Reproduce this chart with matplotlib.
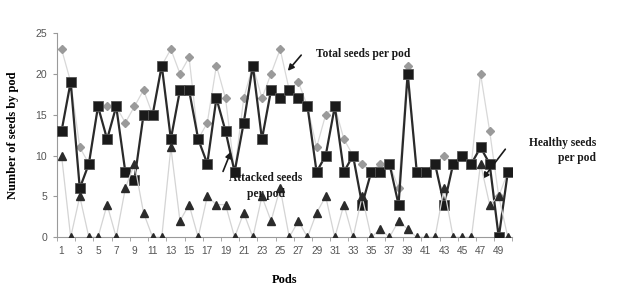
import matplotlib
matplotlib.use("Agg")
import matplotlib.pyplot as plt
import numpy as np

# seeds per pod
pods = list(range(1, 51))
healthy = [13, 19, 6, 9, 16, 12, 16, 8, 7, 15, 15, 21, 12, 18, 18, 12, 9, 17, 13, 8,
           14, 21, 12, 18, 17, 18, 17, 16, 8, 10, 16, 8, 10, 4, 8, 8, 9, 4, 20, 8,
           8, 9, 4, 9, 10, 9, 11, 9, 0, 8]
attacked = [10, 0, 5, 0, 0, 4, 0, 6, 9, 3, 0, 0, 11, 2, 4, 0, 5, 4, 4, 0,
            3, 0, 5, 2, 6, 0, 2, 0, 3, 5, 0, 4, 0, 5, 0, 1, 0, 2, 1, 0,
            0, 0, 6, 0, 0, 0, 9, 4, 5, 0]
total = [h + a for h, a in zip(healthy, attacked)]

xtick_labels = [str(p) for p in pods if p % 2 == 1]

serif = ["Liberation Serif", "DejaVu Serif"]
sans = ["Liberation Sans", "DejaVu Sans"]

W, H = 619, 293
fig = plt.figure(figsize=(W / 100, H / 100), dpi=100)
ax = fig.add_axes([0.0921, 0.190, 0.7357, 0.698])

ax.plot(pods, total, color="#d8d8d8", lw=0.9, marker="D", ms=4.4,
        mfc="#9a9a9a", mec="#9a9a9a", zorder=2)
ax.plot(pods, healthy, color="#2a2a2a", lw=1.6, marker="s", ms=6.6,
        mfc="#1a1a1a", mec="#555555", mew=0.6, zorder=3)
ax.plot(pods, attacked, color="#d4d4d4", lw=0.9, marker="^", ms=6.0,
        mfc="#2b2b2b", mec="#2b2b2b", zorder=4)

ax.set_xlim(0.5, 50.5)
ax.set_ylim(0, 25)
ax.set_yticks([0, 5, 10, 15, 20, 25])
ax.set_xticks([p for p in pods if p % 2 == 1])
ax.set_xticklabels(xtick_labels)
ax.set_xticks(np.arange(0.5, 51, 2), minor=True)

for s in ["top", "right"]:
    ax.spines[s].set_visible(False)
ax.spines["left"].set_color("#9a9a9a")
ax.spines["bottom"].set_color("#9a9a9a")
ax.tick_params(axis="x", which="major", length=0, pad=6, labelsize=7.3, labelcolor="#555555")
ax.tick_params(axis="x", which="minor", length=3, color="#9a9a9a")
ax.tick_params(axis="y", length=3, color="#9a9a9a", labelsize=7.6, labelcolor="#555555", pad=4)
for lab in ax.get_xticklabels() + ax.get_yticklabels():
    lab.set_family(sans)

ax.set_ylabel("Number of seeds by pod", family=serif, fontweight="bold", fontsize=9, labelpad=12)
ax.set_xlabel("Pods", family=serif, fontweight="bold", fontsize=9, labelpad=13)

txt = dict(family=serif, fontweight="bold", fontsize=8.3, color="#1a1a1a")
arrow = dict(arrowstyle="-|>", color="#1a1a1a", lw=1.2, mutation_scale=9)


def px(x, y):
    # pixel position measured from the top-left corner
    return (x, H - y)


ax.annotate("", xy=px(286, 73), xytext=px(303, 53), xycoords="figure pixels",
            textcoords="figure pixels", arrowprops=arrow)
ax.annotate("", xy=px(232, 149), xytext=px(222, 174), xycoords="figure pixels",
            textcoords="figure pixels", arrowprops=arrow)
ax.annotate("", xy=px(481, 181), xytext=px(507, 147), xycoords="figure pixels",
            textcoords="figure pixels", arrowprops=arrow)

fig.text(316 / W, 1 - 54 / H, "Total seeds per pod", ha="left", va="center", **txt)
fig.text(266 / W, 1 - 178 / H, "Attacked seeds", ha="center", va="center", **txt)
fig.text(266 / W, 1 - 194 / H, "per pod", ha="center", va="center", **txt)
fig.text(596 / W, 1 - 143 / H, "Healthy seeds", ha="right", va="center", **txt)
fig.text(596 / W, 1 - 158 / H, "per pod", ha="right", va="center", **txt)

fig.savefig("out.png", dpi=100)
